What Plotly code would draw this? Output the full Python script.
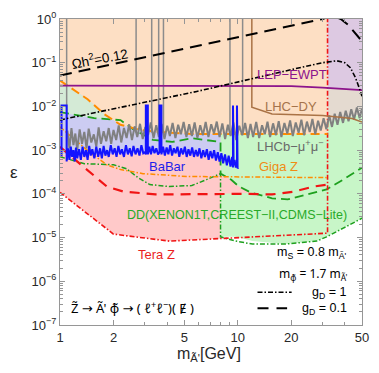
import plotly.graph_objects as go

# ---------------- data (m in GeV, epsilon) ----------------
M_KIN = 32.0  # kinematic limit of Z -> A' phi

relic_gd01_m = [1.0, 30.0, 34.0, 38.0, 42.0, 46.0, 50.0]
relic_gd01_eps = [0.051, 1.0, 1.2, 1.0, 0.72, 0.46, 0.31]

relic_gd1_m = [1.0, 5.88, 20.8, 30.0, 36.0, 40.0, 43.0, 46.0, 49.0, 50.0]
relic_gd1_eps = [0.0049, 0.022, 0.072, 0.10, 0.111, 0.10, 0.077, 0.045, 0.022, 0.017]

lep_m = [1.0, 20.0, 30.0, 40.0, 50.0]
lep_eps = [0.030, 0.029, 0.027, 0.025, 0.0235]

lhcdy_m = [12.0, 12.0, 15.6, 30.0, 44.0, 50.0]
lhcdy_eps = [2.0, 0.0096, 0.0067, 0.0062, 0.0053, 0.0044]

gigaz01_m = [1.0, 1.43, 1.77, 2.19, 2.82, 3.63, 5.5, M_KIN]
gigaz01_eps = [0.039, 0.0146, 0.0067, 0.0038, 0.0029, 0.0026, 0.00235, 0.00235]

gigaz1_m = [1.0, 1.42, 1.835, 2.19, 2.93, 5.18, M_KIN]
gigaz1_eps = [3.4e-3, 1.0e-3, 4.6e-4, 3.6e-4, 2.9e-4, 2.5e-4, 2.35e-4]

dd01_m = [1.0, 1.557, 2.19, 2.58, 3.33, 4.28, 5.52, 8.0, 8.0, 9.2, 10.1, 11.8, 15.6, 19.1, 24.5, 31.6, 39.2, 50.0]
dd01_eps = [7.4e-3, 5.4e-3, 4.86e-3, 3.0e-3, 1.72e-3, 1.54e-3, 1.87e-3, 1.54e-3, 2.9e-4, 2.1e-4, 1.5e-4,
            1.08e-4, 7.9e-5, 7.5e-5, 9.7e-5, 1.26e-4, 2.12e-4, 3.97e-4]

dd1_m = [1.0, 1.372, 2.0, 2.364, 2.75, 3.20, 4.12, 5.52, 6.67, 8.0, 8.0, 9.75, 12.1, 18.4, 27.8, 31.6, 39.2, 50.0]
dd1_eps = [7.05e-4, 4.9e-4, 4.64e-4, 3.77e-4, 2.35e-4, 1.63e-4, 1.47e-4, 1.55e-4, 2.12e-4, 2.9e-4,
           1.04e-5, 8.3e-6, 7.1e-6, 7.1e-6, 8.3e-6, 1.04e-5, 1.64e-5, 2.77e-5]

teraz01_m = [1.0, 1.30, 1.835, 2.27, 3.45, 11.07, 15.6, 20.8, 26.8, M_KIN]
teraz01_eps = [1.19e-3, 4.9e-4, 1.47e-4, 1.13e-4, 9.7e-5, 1.0e-4, 9.7e-5, 1.13e-4, 1.47e-4, 1.63e-4]

teraz1_m = [1.0, 2.0, 4.12, 7.11, 11.07, 20.8, M_KIN, M_KIN]
teraz1_eps = [1.08e-4, 1.2e-5, 8.3e-6, 9.25e-6, 1.03e-5, 1.14e-5, 1.26e-5, 1.5]

# LHCb dimuon search (noisy limit), epsilon in units of 1e-3
lhcb_m = [1.10, 1.13, 1.16, 1.19, 1.22, 1.25, 1.29, 1.33, 1.37, 1.41,
          1.45, 1.50, 1.55, 1.60, 1.65, 1.70, 1.76, 1.82, 1.88, 1.94,
          2.00, 2.07, 2.14, 2.21, 2.29, 2.37, 2.45, 2.54, 2.63, 2.72,
          2.82, 2.92, 3.02, 3.13, 3.24, 3.36, 3.48, 3.60, 3.73, 3.87,
          4.01, 4.15, 4.30, 4.46, 4.62, 4.79, 4.96, 5.14, 5.33, 5.52,
          5.72, 5.93, 6.15, 6.37, 6.60, 6.84, 7.09, 7.35, 7.62, 7.90,
          8.19, 8.49, 8.80, 9.12, 9.45, 9.80, 10.2, 10.6, 11.0, 11.4,
          11.8, 12.2, 12.7, 13.2, 13.7, 14.2, 14.7, 15.2, 15.8, 16.4,
          17.0, 17.6, 18.3, 19.0, 19.7, 20.4, 21.2, 22.0, 22.8, 23.6,
          24.5, 25.4, 26.3, 27.3, 28.3, 29.3, 30.4, 31.5, 32.7, 33.9,
          35.1, 36.4, 37.7, 39.1, 40.5, 42.0, 43.5, 45.1, 46.8, 48.5,
          50.0]
lhcb_eps_e3 = [2.8, 1.1, 3.2, 1.3, 2.4, 1.0, 3.0, 1.4, 2.6, 1.1,
               3.1, 1.5, 2.3, 1.2, 3.3, 1.4, 2.7, 1.6, 3.2, 1.4,
               2.9, 1.7, 3.7, 1.5, 3.2, 1.9, 3.9, 1.7, 3.5, 2.0,
               4.0, 1.8, 3.4, 2.2, 4.3, 1.9, 3.7, 2.0, 4.0, 1.8,
               3.6, 2.1, 4.2, 1.9, 3.8, 2.3, 4.4, 2.0, 3.9, 2.1,
               4.3, 1.9, 3.7, 2.2, 4.4, 2.0, 3.9, 2.4, 4.5, 2.0,
               4.1, 1.8, 3.8, 2.1, 4.3, 1.7, 3.6, 2.2, 4.2, 1.9,
               4.0, 2.0, 4.4, 1.9, 3.7, 2.3, 4.5, 2.0, 4.1, 2.2,
               4.6, 2.0, 4.2, 2.4, 4.8, 2.1, 4.3, 2.5, 5.0, 2.2,
               4.5, 2.6, 5.2, 2.3, 4.7, 2.8, 5.4, 3.0, 6.2, 3.4,
               6.8, 3.8, 7.5, 4.2, 8.0, 4.6, 8.6, 5.0, 9.4, 5.4,
               9.0]
lhcb_res_m = [1.09, 2.68, 3.28, 3.59, 3.82, 9.04, 10.65]
lhcb_res_lo = [8e-4, 2.5e-3, 2.5e-3, 2.5e-3, 2.5e-3, 2.5e-3, 2.5e-3]

# BaBar limit, epsilon in units of 1e-3
babar_m = [1.02, 1.02, 1.09,
           1.09, 1.11, 1.13, 1.15, 1.17, 1.19, 1.21, 1.23, 1.25, 1.28,
           1.31, 1.34, 1.37, 1.40, 1.43, 1.46, 1.49, 1.52, 1.56, 1.60,
           1.64, 1.68, 1.72, 1.76, 1.80, 1.84, 1.88, 1.93, 1.98, 2.03,
           2.08, 2.13, 2.18, 2.23, 2.29, 2.35, 2.41, 2.47, 2.53, 2.59,
           2.66, 2.73, 2.80, 2.87, 2.94, 3.00, 3.04, 3.04, 3.12, 3.12,
           3.18, 3.25, 3.32, 3.40, 3.48, 3.56, 3.63, 3.63, 3.72, 3.72,
           3.80, 3.89, 3.98, 4.07, 4.17, 4.27, 4.37, 4.47, 4.58, 4.69,
           4.80, 4.92, 5.04, 5.16, 5.28, 5.41, 5.54, 5.67, 5.81, 5.95,
           6.09, 6.24, 6.39, 6.54, 6.70, 6.86, 7.02, 7.19, 7.36, 7.54,
           7.72, 7.90, 8.09, 8.28, 8.48, 8.68, 8.89, 9.10, 9.30, 9.40,
           9.40, 9.48, 9.48, 9.60, 9.75, 9.90, 9.90, 9.98, 9.98, 10.05]
babar_eps_e3 = [0.7, 10.5, 10.5,
                0.55, 1.1, 0.6, 1.2, 0.7, 1.0, 0.55, 1.15, 0.65, 1.05,
                0.6, 1.2, 0.7, 1.0, 0.6, 1.25, 0.75, 1.05, 0.65, 1.2,
                0.7, 1.1, 0.65, 1.25, 0.75, 1.0, 0.7, 1.3, 0.8, 1.1,
                0.7, 1.25, 0.8, 1.05, 0.7, 1.3, 0.8, 1.1, 0.72, 1.25,
                0.8, 1.1, 0.75, 1.3, 0.85, 0.9, 0.8, 10.5, 10.5, 0.8,
                1.2, 0.8, 1.25, 0.85, 1.1, 0.8, 0.9, 10.5, 10.5, 0.8,
                1.2, 0.75, 1.15, 0.8, 1.3, 0.75, 1.1, 0.85, 1.2, 0.7,
                1.1, 0.8, 1.2, 0.7, 1.05, 0.75, 1.15, 0.7, 1.0, 0.72,
                1.1, 0.65, 1.0, 0.7, 1.05, 0.6, 0.95, 0.65, 1.0, 0.58,
                0.9, 0.55, 0.85, 0.5, 0.8, 0.45, 0.75, 0.42, 0.7, 0.4,
                10.5, 10.5, 0.45, 0.6, 0.4, 0.5, 10.5, 10.5, 0.38, 0.4]

# shaded region edges
peach_m = [1.0, M_KIN, M_KIN, 1.0]
peach_eps = [1.5e-3, 1.5e-3, 1.5, 1.5]
purple_m = [M_KIN, 40.0, 50.0, 50.0, M_KIN]
purple_eps = [0.0268, 0.025, 0.0235, 1.5, 1.5]
beige_m = [M_KIN, 40.0, 50.0, 50.0, M_KIN]
beige_eps = [0.0268, 0.025, 0.0235, 6.5e-3, 4.5e-3]
green_m = [8.0, M_KIN, M_KIN, 50.0, 50.0, 39.2, 31.6, 27.8, 18.4, 12.1, 9.75, 8.0]
green_eps = [2.34e-3, 2.34e-3, 4.5e-3, 6.5e-3, 2.77e-5, 1.64e-5, 1.04e-5, 8.3e-6, 7.1e-6, 8.3e-6, 1.04e-5, 1.04e-5]
lav_m = [1.0, 1.09, 1.43, 1.77, 2.19, 2.82, 3.63, 5.5, 8.0, 8.0, 6.0, 3.0, 1.0]
lav_eps = [0.030, 0.0305, 0.0146, 0.0067, 0.0038, 0.0029, 0.0026, 0.00235, 0.00235, 6e-4, 8e-4, 8.5e-4, 8e-4]
gg_m = [1.0, 1.09, 1.43, 1.77, 2.0, 1.557, 1.0]
gg_eps = [0.030, 0.0305, 0.0146, 0.0067, 0.0050, 0.0054, 0.0074]
pink_m = [1.0, 3.0, 6.0, 8.0, 8.0, 9.2, 10.1, 11.8, 8.0, 8.0, 7.11, 4.12, 2.0, 1.0]
pink_eps = [8e-4, 8.5e-4, 8e-4, 6e-4, 2.9e-4, 2.1e-4, 1.5e-4, 1.05e-4, 1.0e-4, 9.4e-6, 9.25e-6, 8.3e-6, 1.2e-5, 1.08e-4]

x_ticks = [1, 2, 5, 10, 20, 50]
y_exps = [0, -1, -2, -3, -4, -5, -6, -7]

# ---------------- figure ----------------
FONT = "Liberation Sans, Arial, sans-serif"
MARKFONT = "Noto Sans, DejaVu Sans, sans-serif"
fig = go.Figure()


def fill(m, e, color):
    fig.add_trace(go.Scatter(x=m, y=e, mode="lines", fill="toself", fillcolor=color,
                             line=dict(width=0), hoverinfo="skip", showlegend=False))


def line(m, e, color, width, dash="solid"):
    fig.add_trace(go.Scatter(x=m, y=e, mode="lines", line=dict(color=color, width=width, dash=dash),
                             hoverinfo="skip", showlegend=False))


fill(peach_m, peach_eps, "rgb(253,223,196)")
fill(purple_m, purple_eps, "rgb(221,201,226)")
fill(beige_m, beige_eps, "rgb(228,218,208)")
fill(green_m, green_eps, "rgb(200,246,200)")
fill(lav_m, lav_eps, "rgb(204,204,242)")
fill(gg_m, gg_eps, "rgb(212,234,214)")
fill(pink_m, pink_eps, "rgb(255,201,201)")

DASH = "9px,5px"
DOTDASH = "5px,2px,1.5px,2px"

line(dd1_m, dd1_eps, "rgb(30,160,30)", 1.5, DOTDASH)
line(dd01_m, dd01_eps, "rgb(30,160,30)", 1.8, DASH)
line(teraz1_m, teraz1_eps, "rgb(240,20,20)", 1.6, DOTDASH)
line(teraz01_m, teraz01_eps, "rgb(240,20,20)", 2.2, "10px,7px")
line(gigaz1_m, gigaz1_eps, "rgb(255,140,0)", 1.5, DOTDASH)
line(gigaz01_m, gigaz01_eps, "rgb(255,140,0)", 2.0, DASH)

lhcb_eps = [v * 1e-3 for v in lhcb_eps_e3]
res_x, res_y = [], []
for mm, lo in zip(lhcb_res_m, lhcb_res_lo):
    res_x += [mm, mm, None]
    res_y += [lo, 1.5, None]
line(res_x, res_y, "rgb(140,140,140)", 1.5)
line(lhcb_m, lhcb_eps, "rgb(128,128,128)", 2.0)

babar_eps = [v * 1e-3 for v in babar_eps_e3]
line(babar_m, babar_eps, "rgb(20,20,255)", 2.0)

line(lhcdy_m, lhcdy_eps, "rgb(170,115,70)", 1.5)
line(lep_m, lep_eps, "rgb(140,20,140)", 1.8)
line(relic_gd1_m, relic_gd1_eps, "black", 1.6, DOTDASH)
line(relic_gd01_m, relic_gd01_eps, "black", 2.0, "12px,7px")

# ---------------- annotations ----------------
def note(text, x, y, color="black", size=12.5, angle=0, xanchor="center", family=FONT):
    fig.add_annotation(text=text, x=x, y=y, xref="paper", yref="paper", showarrow=False,
                       font=dict(family=family, size=size, color=color), textangle=angle,
                       xanchor=xanchor, yanchor="middle")


note("Ωh<sup>2</sup>=0.12", 0.130, 0.874, "black", 13.5, -11)
note("LEP−EWPT", 0.767, 0.819, "rgb(140,20,140)", 13)
note("LHC−DY", 0.764, 0.715, "rgb(165,115,75)", 13)
note("LHCb−μ<sup>+</sup>μ<sup>−</sup>", 0.760, 0.586, "rgb(105,105,105)", 13)
note("Giga Z", 0.725, 0.518, "rgb(240,140,20)", 13)
note("BaBar", 0.356, 0.518, "rgb(30,30,235)", 13)
note("DD(XENON1T,CREEST−II,CDMS−Lite)", 0.586, 0.359, "rgb(40,170,40)", 12.5)
note("Tera Z", 0.320, 0.230, "rgb(235,30,30)", 13)
note("m<sub>S</sub> = 0.8 m<sub>Ã'</sub>", 0.957, 0.236, "black", 12.5, xanchor="right")
note("m<sub>φ̃</sub> = 1.7 m<sub>Ã'</sub>", 0.957, 0.168, "black", 12, xanchor="right", family=MARKFONT)
note("g<sub>D</sub> = 1", 0.957, 0.104, "black", 12.5, xanchor="right")
note("g<sub>D</sub> = 0.1", 0.957, 0.053, "black", 12.5, xanchor="right")
note("Z̃ → Ã' φ̃ → ( ℓ<sup>+</sup>ℓ<sup>−</sup>)( E̸ )", 0.030, 0.058, "black", 13, xanchor="left",
     family=MARKFONT)
note("ε", -0.152, 0.5, "rgb(40,40,40)", 17)
note("m<sub>Ã'</sub>[GeV]", 0.492, -0.095, "rgb(40,40,40)", 16)

fig.add_shape(type="line", xref="paper", yref="paper", x0=0.654, x1=0.767, y0=0.107, y1=0.107,
              line=dict(color="black", width=1.6, dash=DOTDASH))
fig.add_shape(type="line", xref="paper", yref="paper", x0=0.654, x1=0.752, y0=0.055, y1=0.055,
              line=dict(color="black", width=2.0, dash="11px,8px"))

y_minor = [j * 10.0 ** k for k in range(-7, 0) for j in range(2, 10)]
axis_common = dict(type="log", showgrid=False, zeroline=False, showline=True,
                   linecolor="rgb(150,150,150)", linewidth=1, mirror="allticks",
                   ticks="inside", ticklen=5, tickcolor="rgb(150,150,150)",
                   tickfont=dict(family=FONT, size=13, color="rgb(40,40,40)"))
fig.update_layout(
    width=379, height=373,
    margin=dict(l=60, r=10, t=16, b=48),
    paper_bgcolor="white", plot_bgcolor="white",
    xaxis=dict(range=[0, 1.69897], tickvals=x_ticks, ticktext=[str(v) for v in x_ticks],
               minor=dict(tickvals=[3, 4, 6, 7, 8, 9, 30, 40], ticks="inside", ticklen=3,
                          tickcolor="rgb(150,150,150)"),
               **axis_common),
    yaxis=dict(range=[-7, 0], tickvals=[10.0 ** k for k in y_exps],
               ticktext=["10<sup>%s</sup>" % (str(k).replace("-", "−")) for k in y_exps],
               minor=dict(tickvals=y_minor, ticks="inside", ticklen=3, tickcolor="rgb(150,150,150)"),
               **axis_common),
)

fig.write_html("out.html")
